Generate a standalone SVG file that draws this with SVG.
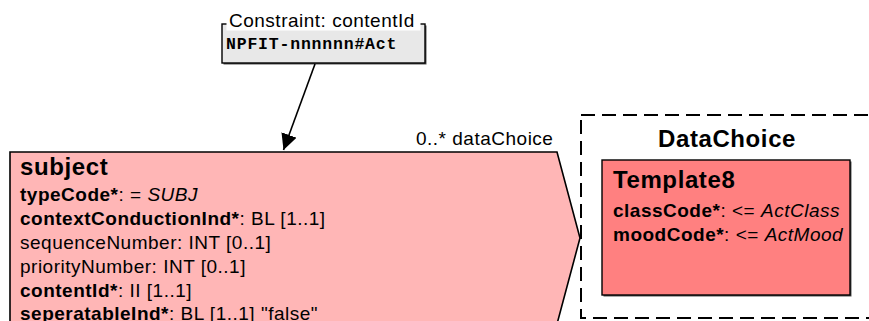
<svg xmlns="http://www.w3.org/2000/svg" width="869" height="321" viewBox="0 0 869 321">
<style>
text{font-family:"Liberation Sans",Arial,Helvetica,sans-serif;fill:#000}
.t{font-size:24px;font-weight:bold;letter-spacing:0.6px}
.a{font-size:19px;letter-spacing:0.5px}
.b{font-weight:bold}
.i{font-style:italic}
.m{font-family:"Liberation Mono","Courier New",monospace;font-size:16.5px;font-weight:bold;letter-spacing:0.8px}
.edge{stroke:#000;stroke-width:1.6;fill:none}
</style>
<defs>
<marker id="ah" viewBox="0 0 10 10" refX="10" refY="5" markerWidth="16" markerHeight="16" markerUnits="userSpaceOnUse" orient="auto">
<path d="M0,0 L10,5 L0,10 z" fill="#000"/>
</marker>
</defs>
<g id="constraint">
<rect x="223.5" y="25.5" width="203" height="39" fill="#555"/>
<rect x="222" y="24" width="203" height="39" fill="#e8e8e8" stroke="#000" stroke-width="1.4"/>
<rect x="226.5" y="8" width="194" height="22.5" fill="#fff"/>
<text x="229" y="27" class="a">Constraint: contentId</text>
<text x="226" y="49" class="m">NPFIT-nnnnnn#Act</text>
</g>
<g id="subject">
<polygon points="10,152 557,152 580,238 557,324 10,324" fill="#ffb6b6" stroke="#000" stroke-width="1.6"/>
<text x="20" y="175" class="t">subject</text>
<text x="20" y="201" class="a"><tspan class="b">typeCode*</tspan>: = <tspan class="i">SUBJ</tspan></text>
<text x="20" y="225" class="a"><tspan class="b">contextConductionInd*</tspan>: BL [1..1]</text>
<text x="20" y="249" class="a">sequenceNumber: INT [0..1]</text>
<text x="20" y="273" class="a">priorityNumber: INT [0..1]</text>
<text x="20" y="297" class="a"><tspan class="b">contentId*</tspan>: II [1..1]</text>
<text x="20" y="320" class="a"><tspan class="b">seperatableInd*</tspan>: BL [1..1] "false"</text>
</g>
<g id="dataChoice">
<rect x="581" y="115" width="300" height="203" fill="none" stroke="#000" stroke-width="2" stroke-dasharray="14,7"/>
<text x="658" y="147" class="t">DataChoice</text>
</g>
<g id="template8">
<rect x="603.5" y="161.5" width="248" height="135" fill="#555"/>
<rect x="602" y="160" width="248" height="135" fill="#ff8080" stroke="#000" stroke-width="1.4"/>
<text x="613" y="188" class="t">Template8</text>
<text x="613" y="217" class="a"><tspan class="b">classCode*</tspan>: &lt;= <tspan class="i">ActClass</tspan></text>
<text x="613" y="241" class="a"><tspan class="b">moodCode*</tspan>: &lt;= <tspan class="i">ActMood</tspan></text>
</g>
<g id="connectors">
<line x1="315" y1="64" x2="283.5" y2="150" class="edge" marker-end="url(#ah)"/>
<text x="416" y="145" class="a">0..* dataChoice</text>
</g>
</svg>
